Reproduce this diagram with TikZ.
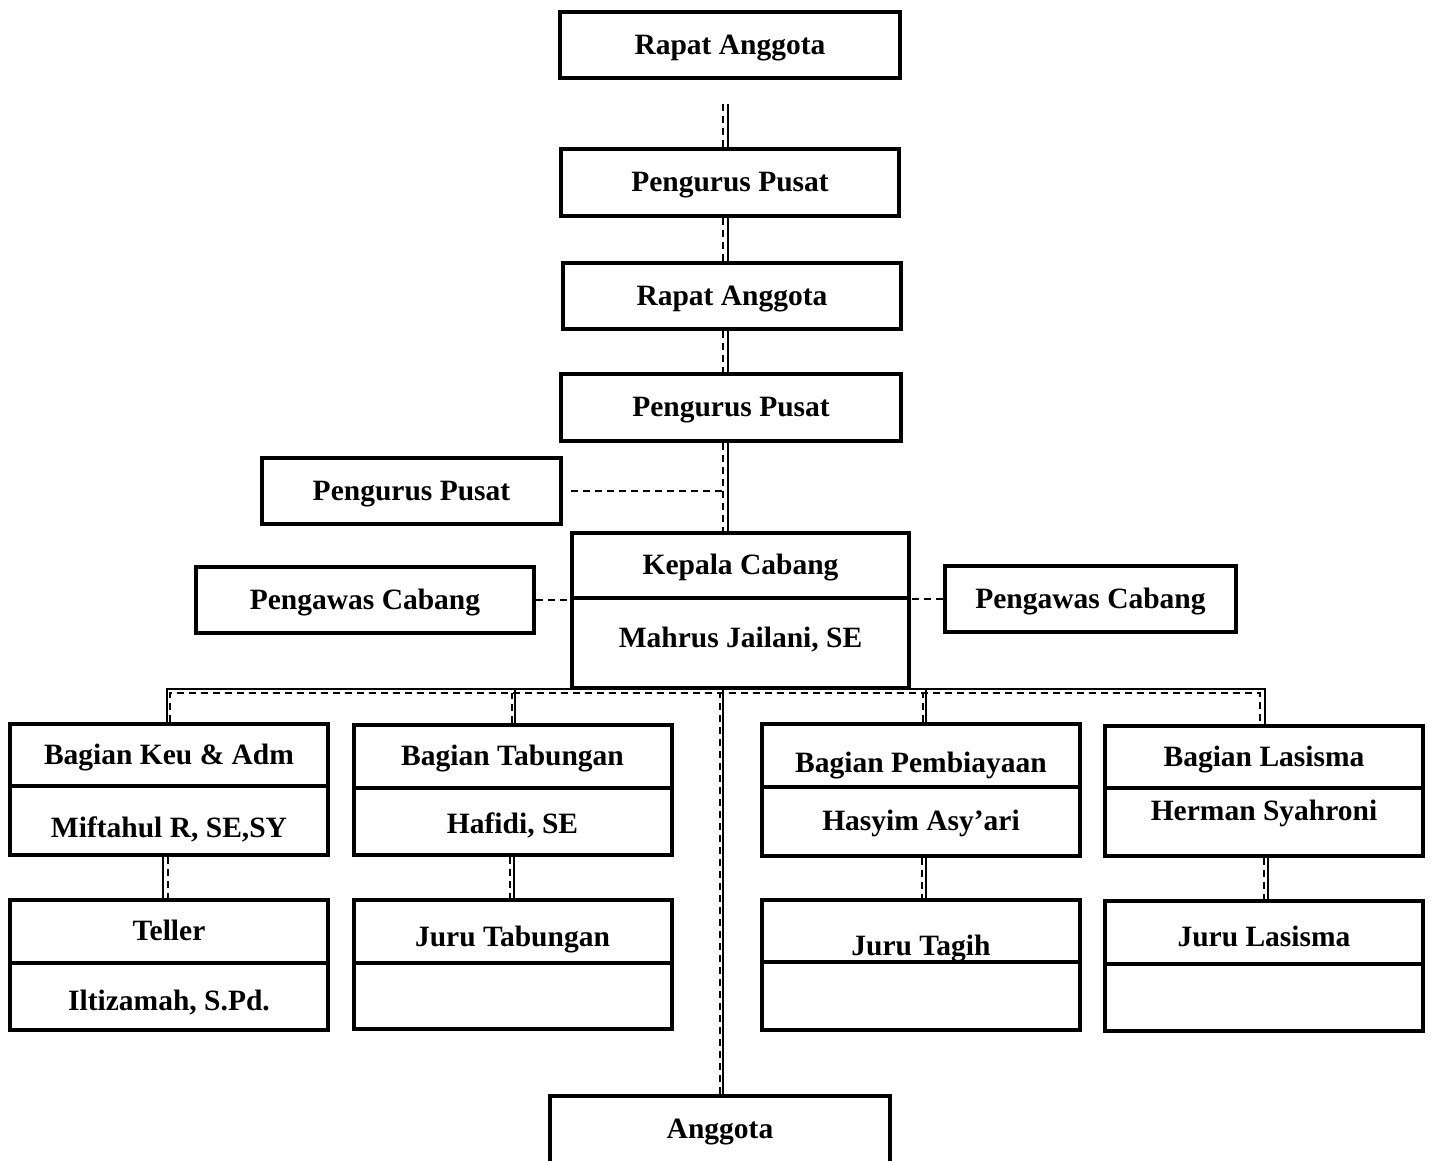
\documentclass[tikz,border=0pt]{standalone}
\usepackage{fontspec}
\setmainfont{Liberation Serif}
\usetikzlibrary{calc}

\begin{document}
\begin{tikzpicture}[
x=1pt,
y=-1pt,
every node/.style={font=\bfseries\fontsize{29.5}{32}\selectfont},
unit/.style={rectangle,draw,line width=4pt,inner sep=0pt,text height=20pt,text depth=2pt,align=center},
part/.style={unit,minimum width=318pt},
solidln/.style={line width=2pt},
dashln/.style={line width=2pt,dash pattern=on 7pt off 5pt}
]
\useasboundingbox (0,0) rectangle (1432,1160);

% top chain
\node[unit,minimum width=340pt,minimum height=66pt] (rapat1) at (730,45) {Rapat Anggota};
\node[unit,minimum width=338pt,minimum height=67pt] (pengurus1) at (730,182.5) {Pengurus Pusat};
\node[unit,minimum width=338pt,minimum height=66pt] (rapat2) at (732,296) {Rapat Anggota};
\node[unit,minimum width=340pt,minimum height=67pt] (pengurus2) at (731,407.5) {Pengurus Pusat};
\node[unit,minimum width=299pt,minimum height=66pt] (pengurus3) at (411.5,491) {Pengurus Pusat};

% kepala cabang and pengawas
\node[unit,minimum width=337pt,minimum height=65pt] (kepala1) at (740.5,565.5) {Kepala Cabang};
\node[unit,minimum width=337pt,minimum height=90pt] (kepala2) at (740.5,643) {\raisebox{5pt}{Mahrus Jailani, SE}};
\node[unit,minimum width=338pt,minimum height=66pt] (pengawasL) at (365,600) {Pengawas Cabang};
\node[unit,minimum width=291pt,minimum height=66pt] (pengawasR) at (1090.5,599) {Pengawas Cabang};

% bagian
\node[part,minimum height=62pt] (keu1) at (169,755) {Bagian Keu \& Adm};
\node[part,minimum height=69pt] (keu2) at (169,820.5) {\raisebox{-8pt}{Miftahul R, SE,SY}};
\node[part,minimum height=63pt] (tabungan1) at (512.5,756.5) {Bagian Tabungan};
\node[part,minimum height=67pt] (tabungan2) at (512.5,821.5) {\raisebox{-3pt}{Hafidi, SE}};
\node[part,minimum height=63pt] (pembiayaan1) at (921,755.5) {\raisebox{-8pt}{Bagian Pembiayaan}};
\node[part,minimum height=69pt] (pembiayaan2) at (921,821.5) {Hasyim Asy’ari};
\node[part,minimum height=62pt] (lasisma1) at (1264,757) {Bagian Lasisma};
\node[part,minimum height=68pt] (lasisma2) at (1264,822) {\raisebox{11pt}{Herman Syahroni}};

% juru
\node[part,minimum height=63pt] (teller1) at (169,931.5) {Teller};
\node[part,minimum height=67pt] (teller2) at (169,996.5) {\raisebox{-5pt}{Iltizamah, S.Pd.}};
\node[part,minimum height=63pt] (jtabungan1) at (512.5,931.5) {\raisebox{-6pt}{Juru Tabungan}};
\node[part,minimum height=66pt] (jtabungan2) at (512.5,996) {};
\node[part,minimum height=62pt] (tagih1) at (921,931) {\raisebox{-15pt}{Juru Tagih}};
\node[part,minimum height=68pt] (tagih2) at (921,996) {};
\node[part,minimum height=63pt] (jlasisma1) at (1264,932.5) {\raisebox{-5pt}{Juru Lasisma}};
\node[part,minimum height=67pt] (jlasisma2) at (1264,997.5) {};

\node[unit,minimum width=340pt,minimum height=80pt] (anggota) at (720,1136) {\raisebox{7pt}{Anggota}};

% trunk
\coordinate (sx) at (728,104);
\coordinate (dx) at (723,104);
\draw[solidln] (sx) -- (sx |- pengurus1.north);
\draw[dashln] (dx) -- (dx |- pengurus1.north);
\draw[solidln] (pengurus1.south -| sx) -- (rapat2.north -| sx);
\draw[dashln] (pengurus1.south -| dx) -- (rapat2.north -| dx);
\draw[solidln] (rapat2.south -| sx) -- (pengurus2.north -| sx);
\draw[dashln] (rapat2.south -| dx) -- (pengurus2.north -| dx);
\draw[solidln] (pengurus2.south -| sx) -- (kepala1.north -| sx);
\draw[dashln] (pengurus2.south -| dx) -- (kepala1.north -| dx);
\draw[dashln] ([xshift=8pt]pengurus3.east) -- ([xshift=-1pt]pengurus3.east -| dx);

\draw[dashln] (pengawasL.east) -- (pengawasL.east -| kepala1.west);
\draw[dashln] (pengawasR.west) -- (pengawasR.west -| kepala1.east);

% bus
\draw[solidln] ([xshift=-2pt]keu1.north) -- ++(0,-33) -| ([xshift=1pt]lasisma1.north);
\draw[solidln] ([xshift=2.5pt]tabungan1.north) -- ++(0,-34);
\draw[solidln] ([xshift=5pt]pembiayaan1.north) -- ++(0,-33);
\draw[solidln] ([xshift=3pt]anggota.north) -- ++(0,-406);
\draw[dashln] ([xshift=1pt]keu1.north) -- ++(0,-29) -| ([xshift=-4pt]lasisma1.north);
\draw[dashln] ([xshift=-0.5pt]tabungan1.north) -- ++(0,-30);
\draw[dashln] ([xshift=2pt]pembiayaan1.north) -- ++(0,-29);
\draw[dashln] (anggota.north) -- ++(0,-401);

% bagian to juru
\draw[solidln] ([xshift=-6pt]keu2.south) -- ([xshift=-6pt]teller1.north);
\draw[dashln] ([xshift=-1pt]keu2.south) -- ([xshift=-1pt]teller1.north);
\draw[solidln] ([xshift=1.5pt]tabungan2.south) -- ([xshift=1.5pt]jtabungan1.north);
\draw[dashln] ([xshift=-2.5pt]tabungan2.south) -- ([xshift=-2.5pt]jtabungan1.north);
\draw[solidln] ([xshift=5pt]pembiayaan2.south) -- ([xshift=5pt]tagih1.north);
\draw[dashln] ([xshift=1pt]pembiayaan2.south) -- ([xshift=1pt]tagih1.north);
\draw[solidln] ([xshift=4pt]lasisma2.south) -- ([xshift=4pt]jlasisma1.north);
\draw[dashln] (lasisma2.south) -- (jlasisma1.north);
\end{tikzpicture}
\end{document}
